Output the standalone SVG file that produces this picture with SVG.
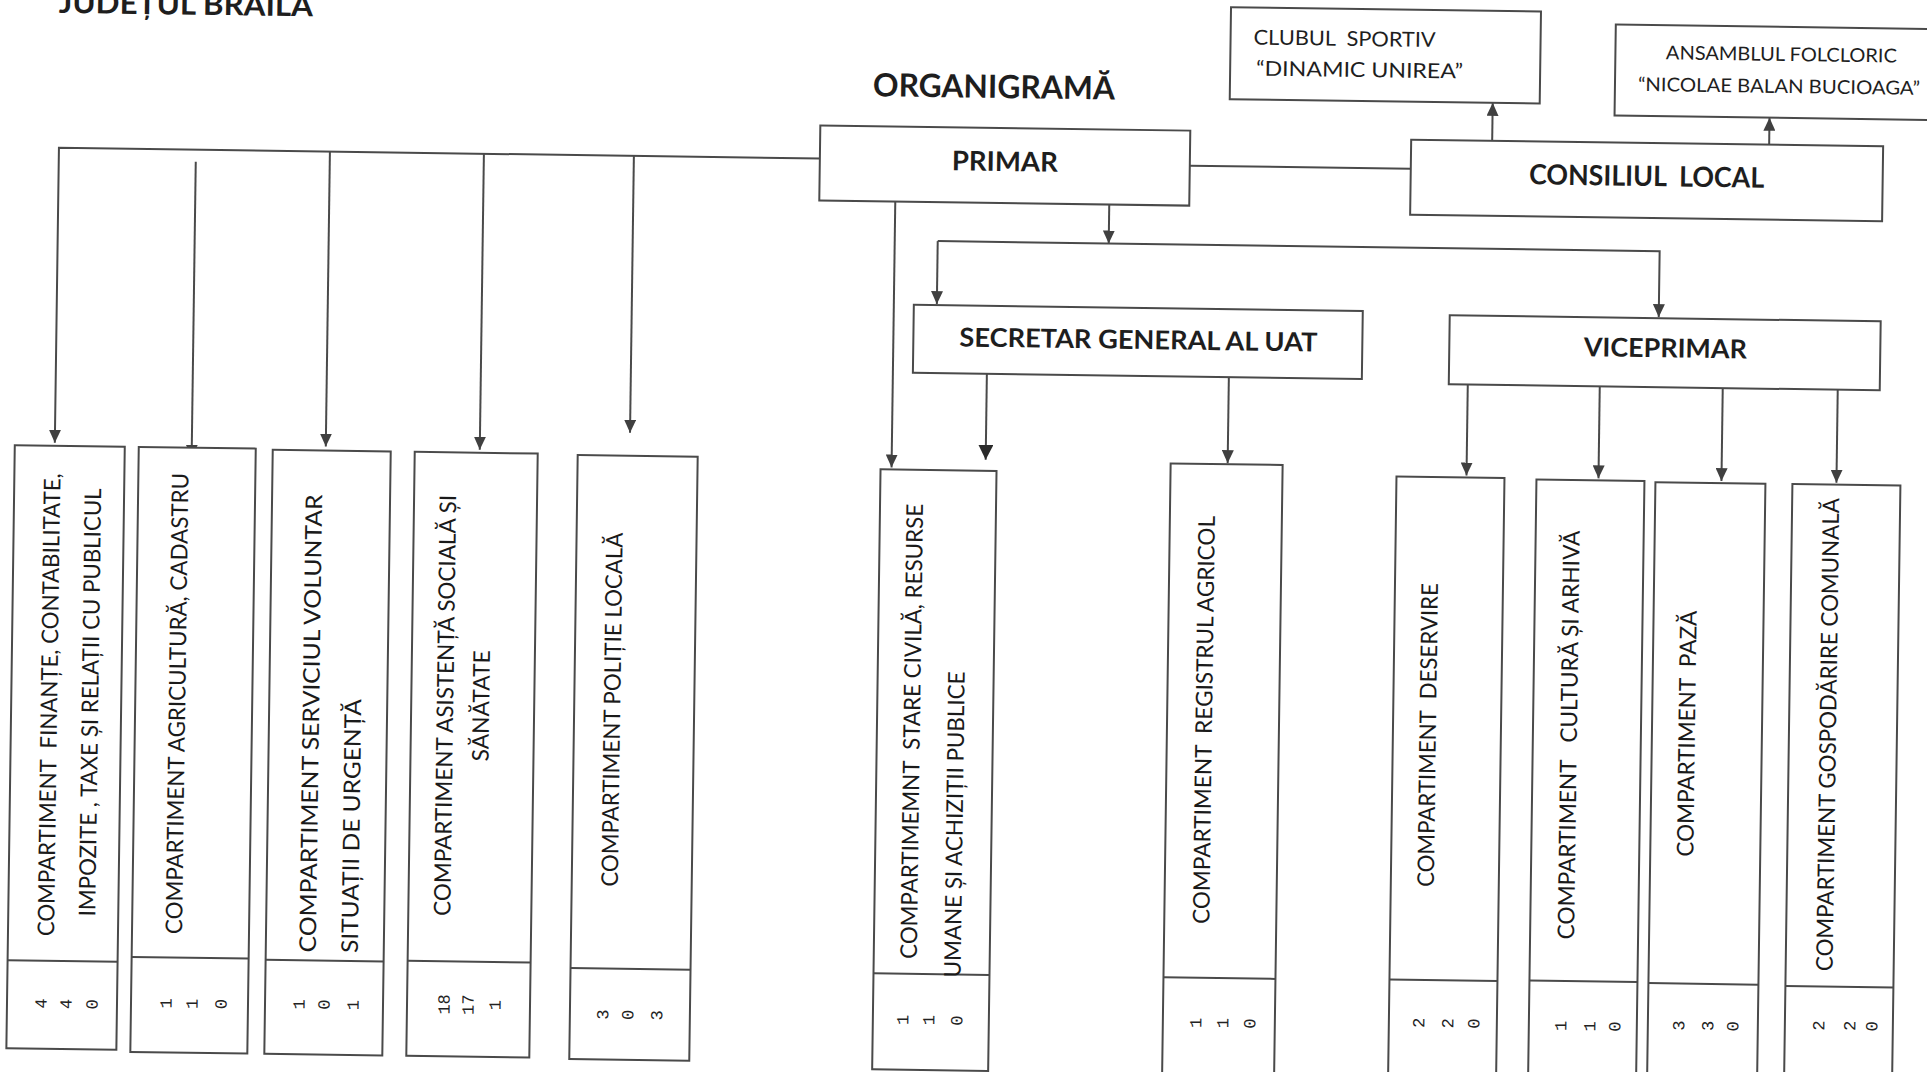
<svg xmlns="http://www.w3.org/2000/svg" width="1927" height="1072" viewBox="0 0 1927 1072">
<defs>
<style>
.box{fill:#fff;stroke:#4a4a4a;stroke-width:2}
.div{stroke:#4a4a4a;stroke-width:2;fill:none}
.ln{fill:none;stroke:#4a4a4a;stroke-width:2}
.hd{font-family:Lato,"Open Sans",sans-serif;font-weight:700;fill:#1e1e1e}
.tx{font-family:Lato,"Open Sans",sans-serif;font-weight:400;fill:#1e1e1e}
.bt{font-family:Lato,"Open Sans",sans-serif;font-weight:400;font-size:23px;fill:#1a1a1a}
.nm{font-family:"Liberation Mono",monospace;font-size:17px;fill:#222}
</style>
<marker id="ah" markerUnits="userSpaceOnUse" markerWidth="13" markerHeight="12" refX="13" refY="6" orient="auto">
<path d="M0,0 L13,6 L0,12 z" fill="#404040"/>
</marker>
<marker id="ahb" markerUnits="userSpaceOnUse" markerWidth="15" markerHeight="15" refX="15" refY="7.5" orient="auto">
<path d="M0,0 L15,7.5 L0,15 z" fill="#2a2a2a"/>
</marker>
</defs>
<rect x="0" y="0" width="1927" height="1072" fill="#fff"/>
<g transform="rotate(0.8)">
<g id="titles">
<text class="hd" x="59" y="12" font-size="30" textLength="254" lengthAdjust="spacingAndGlyphs">JUDEȚUL BRĂILA</text>
<text class="hd" x="995" y="84" font-size="32" text-anchor="middle" textLength="242" lengthAdjust="spacingAndGlyphs">ORGANIGRAMĂ</text>
</g>
<g id="connectors">
<path class="ln" d="M822,147 H61 V442" marker-end="url(#ah)"/>
<path class="ln" d="M198,159 V455" marker-end="url(#ah)"/>
<path class="ln" d="M332,147 V442" marker-end="url(#ah)"/>
<path class="ln" d="M486,147 V443" marker-end="url(#ah)"/>
<path class="ln" d="M636,147 V424" marker-end="url(#ah)"/>
<path class="ln" d="M1192,149 H1413"/>
<path class="ln" d="M898,189 V455" marker-end="url(#ah)"/>
<path class="ln" d="M1112,189 V228" marker-end="url(#ah)"/>
<path class="ln" d="M941,228 H1663 V294" marker-end="url(#ah)"/>
<path class="ln" d="M941,228 V291" marker-end="url(#ah)"/>
<path class="ln" d="M992,360 V446" stroke-width="2.6" stroke="#333" marker-end="url(#ahb)"/>
<path class="ln" d="M1234,360 V446" marker-end="url(#ah)"/>
<path class="ln" d="M1473,364 V455" marker-end="url(#ah)"/>
<path class="ln" d="M1605,364 V456" marker-end="url(#ah)"/>
<path class="ln" d="M1728,364 V457" marker-end="url(#ah)"/>
<path class="ln" d="M1843,364 V457" marker-end="url(#ah)"/>
<path class="ln" d="M1494,120 V82" marker-end="url(#ah)"/>
<path class="ln" d="M1771,120 V93" marker-end="url(#ah)"/>
</g>
<g id="primar">
<rect class="box" x="822" y="114" width="370" height="75"/>
<text class="hd" x="1007" y="157" font-size="27" text-anchor="middle" textLength="106" lengthAdjust="spacingAndGlyphs">PRIMAR</text>
</g>
<g id="consiliul-local">
<rect class="box" x="1413" y="120" width="472" height="75"/>
<text class="hd" x="1649" y="163" font-size="28" text-anchor="middle" textLength="235" lengthAdjust="spacingAndGlyphs" xml:space="preserve">CONSILIUL  LOCAL</text>
</g>
<g id="clubul-sportiv">
<rect class="box" x="1231" y="-10" width="310" height="92"/>
<text class="tx" x="1254" y="27" font-size="20.5" textLength="182" lengthAdjust="spacingAndGlyphs" xml:space="preserve">CLUBUL  SPORTIV</text>
<text class="tx" x="1257" y="58" font-size="20.5" textLength="207" lengthAdjust="spacingAndGlyphs">“DINAMIC UNIREA”</text>
</g>
<g id="ansamblul-folcloric">
<rect class="box" x="1616" y="2" width="330" height="91"/>
<text class="tx" x="1782" y="36" font-size="19" text-anchor="middle" textLength="231" lengthAdjust="spacingAndGlyphs">ANSAMBLUL FOLCLORIC</text>
<text class="tx" x="1780" y="68" font-size="19" text-anchor="middle" textLength="282" lengthAdjust="spacingAndGlyphs">“NICOLAE BALAN BUCIOAGA”</text>
</g>
<g id="secretar-general">
<rect class="box" x="918" y="292" width="449" height="68"/>
<text class="hd" x="1143" y="333" font-size="26" text-anchor="middle" textLength="358" lengthAdjust="spacingAndGlyphs">SECRETAR GENERAL AL UAT</text>
</g>
<g id="viceprimar">
<rect class="box" x="1454" y="295" width="431" height="69"/>
<text class="hd" x="1670" y="334" font-size="26" text-anchor="middle" textLength="163" lengthAdjust="spacingAndGlyphs">VICEPRIMAR</text>
</g>
<g id="comp-finante">
<rect class="box" x="21" y="445" width="110" height="603"/>
<path class="div" d="M21,960 H131"/>
<text class="bt" transform="translate(59,704) rotate(-90)" y="8" text-anchor="middle" textLength="463" lengthAdjust="spacingAndGlyphs" xml:space="preserve">COMPARTIMENT  FINANȚE, CONTABILITATE,</text>
<text class="bt" transform="translate(100,701) rotate(-90)" y="8" text-anchor="middle" textLength="428" lengthAdjust="spacingAndGlyphs">IMPOZITE , TAXE ȘI RELAȚII CU PUBLICUL</text>
<text class="nm" transform="translate(55,1003) rotate(-90)" y="5.5" text-anchor="middle">4</text>
<text class="nm" transform="translate(80,1003) rotate(-90)" y="5.5" text-anchor="middle">4</text>
<text class="nm" transform="translate(106,1003) rotate(-90)" y="5.5" text-anchor="middle">0</text>
</g>
<g id="comp-agricultura">
<rect class="box" x="145" y="445" width="117" height="605"/>
<path class="div" d="M145,955 H262"/>
<text class="bt" transform="translate(187,701) rotate(-90)" y="8" text-anchor="middle" textLength="461" lengthAdjust="spacingAndGlyphs">COMPARTIMENT AGRICULTURĂ, CADASTRU</text>
<text class="nm" transform="translate(180,1001) rotate(-90)" y="5.5" text-anchor="middle">1</text>
<text class="nm" transform="translate(206,1001) rotate(-90)" y="5.5" text-anchor="middle">1</text>
<text class="nm" transform="translate(235,1001) rotate(-90)" y="5.5" text-anchor="middle">0</text>
</g>
<g id="comp-svsu">
<rect class="box" x="279" y="446" width="118" height="604"/>
<path class="div" d="M279,956 H397"/>
<text class="bt" transform="translate(320,948) rotate(-90)" y="9" font-size="25" textLength="458" lengthAdjust="spacingAndGlyphs">COMPARTIMENT SERVICIUL VOLUNTAR</text>
<text class="bt" transform="translate(362,948) rotate(-90)" y="9" font-size="25" textLength="254" lengthAdjust="spacingAndGlyphs">SITUAȚII DE URGENȚĂ</text>
<text class="nm" transform="translate(313,1000) rotate(-90)" y="5.5" text-anchor="middle">1</text>
<text class="nm" transform="translate(338,1000) rotate(-90)" y="5.5" text-anchor="middle">0</text>
<text class="nm" transform="translate(367,1000) rotate(-90)" y="5.5" text-anchor="middle">1</text>
</g>
<g id="comp-asistenta">
<rect class="box" x="421" y="446" width="123" height="604"/>
<path class="div" d="M421,955 H544"/>
<text class="bt" transform="translate(455,699) rotate(-90)" y="8" text-anchor="middle" textLength="421" lengthAdjust="spacingAndGlyphs">COMPARTIMENT ASISTENȚĂ SOCIALĂ ȘI</text>
<text class="bt" transform="translate(491,699) rotate(-90)" y="8" text-anchor="middle" textLength="111" lengthAdjust="spacingAndGlyphs">SĂNĂTATE</text>
<text class="nm" transform="translate(458,998) rotate(-90)" y="5.5" text-anchor="middle">18</text>
<text class="nm" transform="translate(482,998) rotate(-90)" y="5.5" text-anchor="middle">17</text>
<text class="nm" transform="translate(509,998) rotate(-90)" y="5.5" text-anchor="middle">1</text>
</g>
<g id="comp-politie">
<rect class="box" x="584" y="447" width="120" height="604"/>
<path class="div" d="M584,960 H704"/>
<text class="bt" transform="translate(622,701) rotate(-90)" y="8" text-anchor="middle" textLength="354" lengthAdjust="spacingAndGlyphs">COMPARTIMENT POLIȚIE LOCALĂ</text>
<text class="nm" transform="translate(617,1006) rotate(-90)" y="5.5" text-anchor="middle">3</text>
<text class="nm" transform="translate(642,1006) rotate(-90)" y="5.5" text-anchor="middle">0</text>
<text class="nm" transform="translate(671,1006) rotate(-90)" y="5.5" text-anchor="middle">3</text>
</g>
<g id="comp-stare-civila">
<rect class="box" x="887" y="457" width="116" height="600"/>
<path class="div" d="M887,961 H1003"/>
<text class="bt" transform="translate(922,946) rotate(-90)" y="8" textLength="455" lengthAdjust="spacingAndGlyphs" xml:space="preserve">COMPARTIMEMNT  STARE CIVILĂ, RESURSE</text>
<text class="bt" transform="translate(966,964) rotate(-90)" y="8" textLength="306" lengthAdjust="spacingAndGlyphs">UMANE ȘI ACHIZIȚII PUBLICE</text>
<text class="nm" transform="translate(917,1007) rotate(-90)" y="5.5" text-anchor="middle">1</text>
<text class="nm" transform="translate(943,1007) rotate(-90)" y="5.5" text-anchor="middle">1</text>
<text class="nm" transform="translate(971,1007) rotate(-90)" y="5.5" text-anchor="middle">0</text>
</g>
<g id="comp-registrul-agricol">
<rect class="box" x="1177" y="447" width="112" height="620"/>
<path class="div" d="M1177,961 H1289"/>
<text class="bt" transform="translate(1214,703) rotate(-90)" y="8" text-anchor="middle" textLength="408" lengthAdjust="spacingAndGlyphs" xml:space="preserve">COMPARTIMENT  REGISTRUL AGRICOL</text>
<text class="nm" transform="translate(1210,1006) rotate(-90)" y="5.5" text-anchor="middle">1</text>
<text class="nm" transform="translate(1237,1006) rotate(-90)" y="5.5" text-anchor="middle">1</text>
<text class="nm" transform="translate(1264,1006) rotate(-90)" y="5.5" text-anchor="middle">0</text>
</g>
<g id="comp-deservire">
<rect class="box" x="1403" y="457" width="108" height="610"/>
<path class="div" d="M1403,960 H1511"/>
<text class="bt" transform="translate(1438,715) rotate(-90)" y="8" text-anchor="middle" textLength="304" lengthAdjust="spacingAndGlyphs" xml:space="preserve">COMPARTIMENT  DESERVIRE</text>
<text class="nm" transform="translate(1433,1003) rotate(-90)" y="5.5" text-anchor="middle">2</text>
<text class="nm" transform="translate(1462,1003) rotate(-90)" y="5.5" text-anchor="middle">2</text>
<text class="nm" transform="translate(1488,1003) rotate(-90)" y="5.5" text-anchor="middle">0</text>
</g>
<g id="comp-cultura">
<rect class="box" x="1543" y="458" width="108" height="610"/>
<path class="div" d="M1543,959 H1651"/>
<text class="bt" transform="translate(1579,713) rotate(-90)" y="8" text-anchor="middle" textLength="409" lengthAdjust="spacingAndGlyphs" xml:space="preserve">COMPARTIMENT   CULTURĂ ȘI ARHIVĂ</text>
<text class="nm" transform="translate(1575,1004) rotate(-90)" y="5.5" text-anchor="middle">1</text>
<text class="nm" transform="translate(1604,1004) rotate(-90)" y="5.5" text-anchor="middle">1</text>
<text class="nm" transform="translate(1629,1004) rotate(-90)" y="5.5" text-anchor="middle">0</text>
</g>
<g id="comp-paza">
<rect class="box" x="1662" y="459" width="110" height="610"/>
<path class="div" d="M1662,960 H1772"/>
<text class="bt" transform="translate(1697,710) rotate(-90)" y="8" text-anchor="middle" textLength="246" lengthAdjust="spacingAndGlyphs" xml:space="preserve">COMPARTIMENT  PAZĂ</text>
<text class="nm" transform="translate(1693,1002) rotate(-90)" y="5.5" text-anchor="middle">3</text>
<text class="nm" transform="translate(1722,1002) rotate(-90)" y="5.5" text-anchor="middle">3</text>
<text class="nm" transform="translate(1747,1002) rotate(-90)" y="5.5" text-anchor="middle">0</text>
</g>
<g id="comp-gospodarire">
<rect class="box" x="1799" y="459" width="108" height="610"/>
<path class="div" d="M1799,961 H1907"/>
<text class="bt" transform="translate(1838,709) rotate(-90)" y="8" text-anchor="middle" textLength="473" lengthAdjust="spacingAndGlyphs">COMPARTIMENT GOSPODĂRIRE COMUNALĂ</text>
<text class="nm" transform="translate(1833,1000) rotate(-90)" y="5.5" text-anchor="middle">2</text>
<text class="nm" transform="translate(1864,1000) rotate(-90)" y="5.5" text-anchor="middle">2</text>
<text class="nm" transform="translate(1886,1000) rotate(-90)" y="5.5" text-anchor="middle">0</text>
</g>
</g>
</svg>
